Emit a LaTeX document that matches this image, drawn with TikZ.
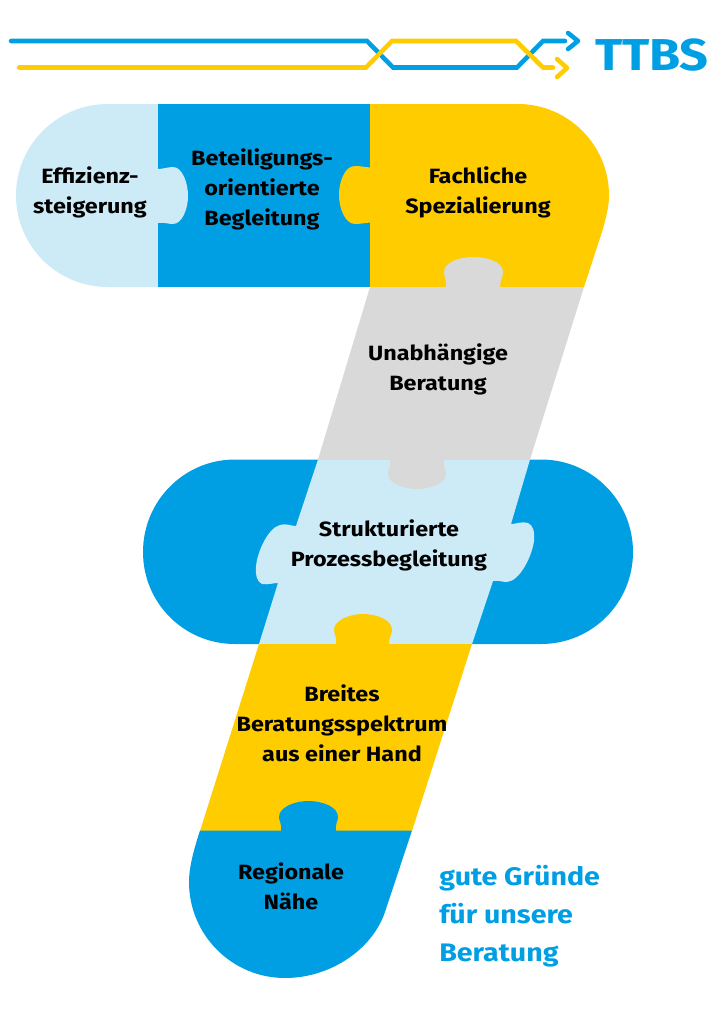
\documentclass[tikz,border=0pt]{standalone}
\usepackage{fontspec}
\setmainfont{Fira Sans}[UprightFont=* Bold,FakeStretch=1.13]
\definecolor{tblue}{HTML}{009FE3}
\definecolor{tlight}{HTML}{CDEBF6}
\definecolor{tyellow}{HTML}{FFCC00}
\definecolor{tgray}{HTML}{D9D9D9}
\tikzset{
 lbl/.style={text=black,align=center,font=\fontsize{15.5}{22.5}\selectfont,inner sep=0pt},
 side/.style={text=tblue,align=left,anchor=west,font=\fontsize{19}{28.5}\selectfont,inner sep=0pt},
 logoline/.style={line width=3.4pt,line cap=round,line join=miter},
 chev/.style={line width=3.4pt,line cap=round,line join=round}
}
\begin{document}
\begin{tikzpicture}[x=0.75pt,y=-0.75pt]
\useasboundingbox (0,0) rectangle (724,1024);
% top row
\fill[tlight] (158,104) -- (108,104) .. controls (57,104) and (16,145) .. (16,195.5) .. controls (16,246) and (57,287) .. (108,287) -- (158,287) -- cycle;
\fill[tblue] (158,104) -- (370,104) -- (370,287) -- (158,287) -- cycle;
\fill[tlight] (157,223) -- (158,223) .. controls (163,222) and (168,224) .. (173,224) .. controls (182,224) and (188,209) .. (188,196) .. controls (188,182) and (182,167) .. (173,167) .. controls (168,167) and (163,169) .. (158,169) -- (157,169) -- cycle;
\fill[tyellow] (370,104) -- (518,104) .. controls (568,104) and (609,145) .. (609,195) .. controls (609,207) and (606,218) .. (602,232) -- (584,287) -- (370,287) -- (370,222.5) .. controls (365,223) and (360,224) .. (355,224) .. controls (345,224) and (339,208) .. (339,195) .. controls (339,181) and (345,166) .. (355,166) .. controls (360,166) and (365,167) .. (370,167.5) -- cycle;
% blue pill
\fill[tblue] (235,459.5) -- (541,459.5) .. controls (592,459.5) and (633,501) .. (633,552) .. controls (633,603) and (592,644) .. (541,644) -- (235,644) .. controls (184,644) and (143,603) .. (143,552) .. controls (143,501) and (184,459.5) .. (235,459.5) -- cycle;
% light middle
\fill[tlight] (318,459.5) -- (530,459.5) -- (511,524) .. controls (516,524) and (522,521) .. (528,523) .. controls (533,525) and (535,532) .. (534,541) .. controls (532,556) and (520,581) .. (507,582) .. controls (502,582) and (498,580) .. (493,581) -- (472,644) -- (259,644) -- (278,583) .. controls (273,583) and (268,585) .. (262,584) .. controls (257,582) and (255,574) .. (256,567) .. controls (257,552) and (268,528) .. (280,525) .. controls (286,523) and (291,526) .. (296,526) -- cycle;
% grey
\fill[tgray] (370,287) -- (446,287) .. controls (447,280) and (444,277) .. (444,272) .. controls (444,262) and (460,257) .. (473,257) .. controls (488,257) and (503,262) .. (503,272) .. controls (503,277) and (500,280) .. (500,287) -- (584,287) -- (530,459.5) -- (444,459.5) .. controls (443,466) and (446,470) .. (446,474) .. controls (446,483) and (431,489) .. (417,489) .. controls (403,489) and (388,483) .. (388,474) .. controls (388,470) and (391,466) .. (390,459.5) -- (318,459.5) -- cycle;
% yellow lower
\fill[tyellow] (259,644) -- (336,644) .. controls (337,637) and (334,634) .. (334,630) .. controls (334,620) and (350,614) .. (363,614) .. controls (377,614) and (392,620) .. (392,630) .. controls (392,634) and (389,637) .. (389,644) -- (472,644) -- (412,831) -- (200,831) -- cycle;
% blue bottom
\fill[tblue] (200,830.5) -- (281,830.5) .. controls (282,824) and (279,821) .. (279,817) .. controls (279,807) and (295,801) .. (308,801) .. controls (323,801) and (338,807) .. (338,817) .. controls (338,821) and (335,824) .. (336,830.5) -- (412,830.5) -- (385,912) .. controls (372,950) and (330,978) .. (285,978) .. controls (232,978) and (189,935) .. (189,882) .. controls (189,870) and (192,855) .. (200,830.5) -- cycle;
% logo
\draw[logoline,tblue] (11,41) -- (367,41) -- (393,67.5) -- (517,67.5) -- (543,41) -- (565,41);
\draw[logoline,tyellow] (19,67.5) -- (366,67.5) -- (392,41) -- (516,41) -- (543,67.5) -- (553,67.5);
\draw[chev,tblue] (568,33) -- (578,41) -- (568,49);
\draw[chev,tyellow] (557,59) -- (567,68) -- (557,77);
\node[anchor=west,inner sep=0pt,text=tblue,font=\fontsize{33.5}{33.5}\selectfont] (logo) at (595,55.5) {TTBS};
% labels
\node[lbl] (a) at (90,192) {Effizienz-\\steigerung};
\node[lbl] (b) at (262,189) {Beteiligungs-\\orientierte\\Begleitung};
\node[lbl] (c) at (478,192.5) {Fachliche\\Spezialierung};
\node[lbl] (d) at (438,369.5) {Unabhängige\\Beratung};
\node[lbl] (e) at (389,545.5) {Strukturierte\\Prozessbegleitung};
\node[lbl] (f) at (342,723.5) {Breites\\Beratungsspektrum\\aus einer Hand};
\node[lbl] (g) at (291,886) {Regionale\\Nähe};
\node[side] (h) at (439,916) {gute Gründe\\für unsere\\Beratung};
\end{tikzpicture}
\end{document}
